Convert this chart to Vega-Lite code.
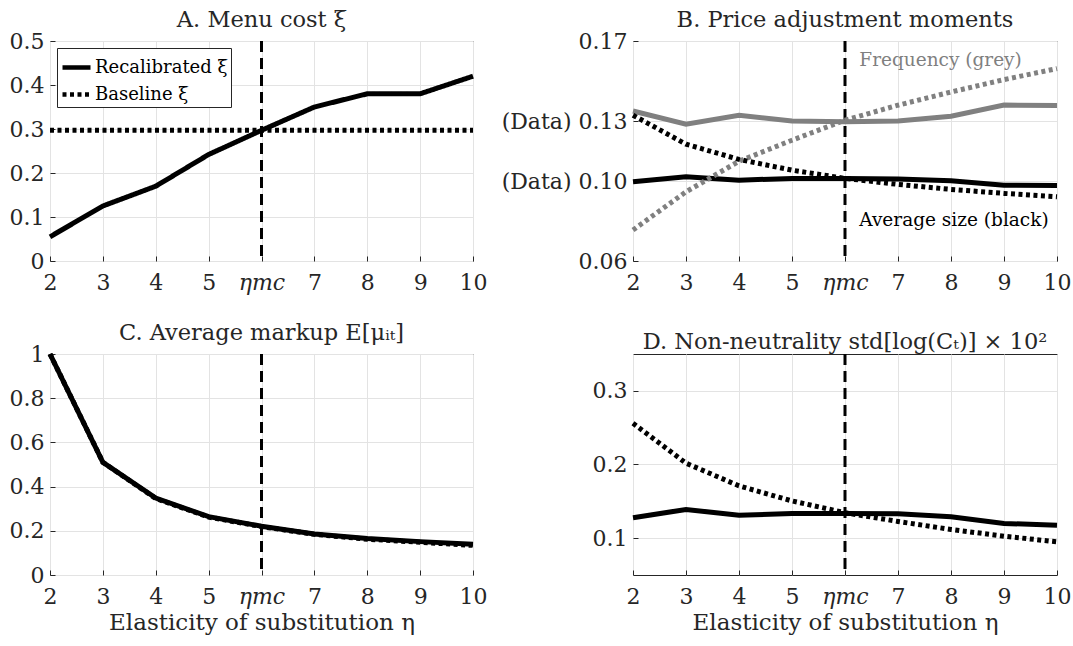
{
  "$schema": "https://vega.github.io/schema/vega-lite/v6.json",
  "background": "white",
  "padding": {"left": 8, "top": 8, "right": 5, "bottom": 5},
  "config": {
    "font": "DejaVu Serif",
    "view": {"stroke": "#262626", "strokeWidth": 1},
    "axis": {
      "labelFont": "DejaVu Serif", "labelFontSize": 22, "labelColor": "#262626",
      "domain": false, "tickColor": "#262626", "tickSize": -5,
      "gridColor": "#e3e3e3", "gridOpacity": 1,
      "titleFont": "DejaVu Serif", "titleFontSize": 23, "titleFontWeight": "normal", "titleColor": "#262626",
      "labelFlush": false, "labelOverlap": false
    },
    "axisX": {"labelPadding": 16},
    "axisY": {"labelPadding": 11},
    "title": {"font": "DejaVu Serif", "fontSize": 22.5, "fontWeight": "normal", "color": "#262626", "offset": -1}
  },
  "data": {"values": [
    {"panel": "A", "series": "Recalibrated", "eta": 2, "value": 0.055},
    {"panel": "A", "series": "Recalibrated", "eta": 3, "value": 0.125},
    {"panel": "A", "series": "Recalibrated", "eta": 4, "value": 0.17},
    {"panel": "A", "series": "Recalibrated", "eta": 5, "value": 0.242},
    {"panel": "A", "series": "Recalibrated", "eta": 6, "value": 0.297},
    {"panel": "A", "series": "Recalibrated", "eta": 7, "value": 0.35},
    {"panel": "A", "series": "Recalibrated", "eta": 8, "value": 0.38},
    {"panel": "A", "series": "Recalibrated", "eta": 9, "value": 0.38},
    {"panel": "A", "series": "Recalibrated", "eta": 10, "value": 0.42},
    {"panel": "A", "series": "Baseline", "eta": 2, "value": 0.297},
    {"panel": "A", "series": "Baseline", "eta": 3, "value": 0.297},
    {"panel": "A", "series": "Baseline", "eta": 4, "value": 0.297},
    {"panel": "A", "series": "Baseline", "eta": 5, "value": 0.297},
    {"panel": "A", "series": "Baseline", "eta": 6, "value": 0.297},
    {"panel": "A", "series": "Baseline", "eta": 7, "value": 0.297},
    {"panel": "A", "series": "Baseline", "eta": 8, "value": 0.297},
    {"panel": "A", "series": "Baseline", "eta": 9, "value": 0.297},
    {"panel": "A", "series": "Baseline", "eta": 10, "value": 0.297},
    {"panel": "B", "series": "freq_rec", "eta": 2, "value": 0.135},
    {"panel": "B", "series": "freq_rec", "eta": 3, "value": 0.1284},
    {"panel": "B", "series": "freq_rec", "eta": 4, "value": 0.1329},
    {"panel": "B", "series": "freq_rec", "eta": 5, "value": 0.130},
    {"panel": "B", "series": "freq_rec", "eta": 6, "value": 0.1296},
    {"panel": "B", "series": "freq_rec", "eta": 7, "value": 0.130},
    {"panel": "B", "series": "freq_rec", "eta": 8, "value": 0.1324},
    {"panel": "B", "series": "freq_rec", "eta": 9, "value": 0.138},
    {"panel": "B", "series": "freq_rec", "eta": 10, "value": 0.1377},
    {"panel": "B", "series": "freq_base", "eta": 2, "value": 0.0755},
    {"panel": "B", "series": "freq_base", "eta": 3, "value": 0.0946},
    {"panel": "B", "series": "freq_base", "eta": 4, "value": 0.1099},
    {"panel": "B", "series": "freq_base", "eta": 5, "value": 0.1204},
    {"panel": "B", "series": "freq_base", "eta": 6, "value": 0.1304},
    {"panel": "B", "series": "freq_base", "eta": 7, "value": 0.1379},
    {"panel": "B", "series": "freq_base", "eta": 8, "value": 0.1445},
    {"panel": "B", "series": "freq_base", "eta": 9, "value": 0.1507},
    {"panel": "B", "series": "freq_base", "eta": 10, "value": 0.1562},
    {"panel": "B", "series": "size_rec", "eta": 2, "value": 0.0996},
    {"panel": "B", "series": "size_rec", "eta": 3, "value": 0.1021},
    {"panel": "B", "series": "size_rec", "eta": 4, "value": 0.1004},
    {"panel": "B", "series": "size_rec", "eta": 5, "value": 0.1013},
    {"panel": "B", "series": "size_rec", "eta": 6, "value": 0.1013},
    {"panel": "B", "series": "size_rec", "eta": 7, "value": 0.101},
    {"panel": "B", "series": "size_rec", "eta": 8, "value": 0.1001},
    {"panel": "B", "series": "size_rec", "eta": 9, "value": 0.0979},
    {"panel": "B", "series": "size_rec", "eta": 10, "value": 0.0978},
    {"panel": "B", "series": "size_base", "eta": 2, "value": 0.1329},
    {"panel": "B", "series": "size_base", "eta": 3, "value": 0.1184},
    {"panel": "B", "series": "size_base", "eta": 4, "value": 0.1108},
    {"panel": "B", "series": "size_base", "eta": 5, "value": 0.1054},
    {"panel": "B", "series": "size_base", "eta": 6, "value": 0.1013},
    {"panel": "B", "series": "size_base", "eta": 7, "value": 0.0983},
    {"panel": "B", "series": "size_base", "eta": 8, "value": 0.0958},
    {"panel": "B", "series": "size_base", "eta": 9, "value": 0.0938},
    {"panel": "B", "series": "size_base", "eta": 10, "value": 0.0921},
    {"panel": "C", "series": "Recalibrated", "eta": 2, "value": 1.0},
    {"panel": "C", "series": "Recalibrated", "eta": 3, "value": 0.51},
    {"panel": "C", "series": "Recalibrated", "eta": 4, "value": 0.348},
    {"panel": "C", "series": "Recalibrated", "eta": 5, "value": 0.264},
    {"panel": "C", "series": "Recalibrated", "eta": 6, "value": 0.221},
    {"panel": "C", "series": "Recalibrated", "eta": 7, "value": 0.186},
    {"panel": "C", "series": "Recalibrated", "eta": 8, "value": 0.165},
    {"panel": "C", "series": "Recalibrated", "eta": 9, "value": 0.151},
    {"panel": "C", "series": "Recalibrated", "eta": 10, "value": 0.139},
    {"panel": "C", "series": "Baseline", "eta": 2, "value": 1.0},
    {"panel": "C", "series": "Baseline", "eta": 3, "value": 0.51},
    {"panel": "C", "series": "Baseline", "eta": 4, "value": 0.346},
    {"panel": "C", "series": "Baseline", "eta": 5, "value": 0.262},
    {"panel": "C", "series": "Baseline", "eta": 6, "value": 0.219},
    {"panel": "C", "series": "Baseline", "eta": 7, "value": 0.184},
    {"panel": "C", "series": "Baseline", "eta": 8, "value": 0.162},
    {"panel": "C", "series": "Baseline", "eta": 9, "value": 0.148},
    {"panel": "C", "series": "Baseline", "eta": 10, "value": 0.134},
    {"panel": "D", "series": "Recalibrated", "eta": 2, "value": 0.1277},
    {"panel": "D", "series": "Recalibrated", "eta": 3, "value": 0.139},
    {"panel": "D", "series": "Recalibrated", "eta": 4, "value": 0.131},
    {"panel": "D", "series": "Recalibrated", "eta": 5, "value": 0.1336},
    {"panel": "D", "series": "Recalibrated", "eta": 6, "value": 0.1336},
    {"panel": "D", "series": "Recalibrated", "eta": 7, "value": 0.133},
    {"panel": "D", "series": "Recalibrated", "eta": 8, "value": 0.129},
    {"panel": "D", "series": "Recalibrated", "eta": 9, "value": 0.12},
    {"panel": "D", "series": "Recalibrated", "eta": 10, "value": 0.1177},
    {"panel": "D", "series": "Baseline", "eta": 2, "value": 0.2559},
    {"panel": "D", "series": "Baseline", "eta": 3, "value": 0.2018},
    {"panel": "D", "series": "Baseline", "eta": 4, "value": 0.171},
    {"panel": "D", "series": "Baseline", "eta": 5, "value": 0.1505},
    {"panel": "D", "series": "Baseline", "eta": 6, "value": 0.1345},
    {"panel": "D", "series": "Baseline", "eta": 7, "value": 0.1227},
    {"panel": "D", "series": "Baseline", "eta": 8, "value": 0.1118},
    {"panel": "D", "series": "Baseline", "eta": 9, "value": 0.1027},
    {"panel": "D", "series": "Baseline", "eta": 10, "value": 0.095}
  ]},
  "columns": 2,
  "bounds": "flush",
  "spacing": {"row": 93, "column": 160},
  "resolve": {"scale": {"x": "independent", "y": "independent"}},
  "concat": [
    {
      "width": 423, "height": 220,
      "title": "A. Menu cost ξ̅",
      "transform": [{"filter": "datum.panel == 'A'"}],
      "encoding": {
        "x": {"field": "eta", "type": "quantitative", "scale": {"domain": [2, 10], "nice": false},
          "axis": {"title": null, "values": [2, 3, 4, 5, 6, 7, 8, 9, 10],
            "labelExpr": "datum.value == 6 ? 'ηmc' : datum.label",
            "labelFontStyle": {"condition": {"test": "datum.value == 6", "value": "italic"}, "value": "normal"}}},
        "y": {"field": "value", "type": "quantitative", "scale": {"domain": [0, 0.5], "nice": false, "zero": false},
          "axis": {"title": null, "values": [0, 0.1, 0.2, 0.3, 0.4, 0.5], "format": ".1~f"}}
      },
      "layer": [
        {"data": {"values": [{"eta": 6}]}, "mark": {"type": "rule", "color": "black", "strokeWidth": 3, "strokeDash": [11, 6]},
         "encoding": {"x": {"field": "eta", "type": "quantitative"}, "y": null}},
        {"mark": {"type": "line", "color": "black", "strokeWidth": 5},
         "encoding": {
           "strokeDash": {"field": "series", "type": "nominal",
             "scale": {"domain": ["Recalibrated", "Baseline"], "range": [[1, 0], [4, 3.5]]},
             "legend": {"orient": "top-left", "offset": 7, "title": null, "labelExpr": "datum.label + ' ξ̅'",
               "strokeColor": "#262626", "fillColor": "white", "padding": 3, "cornerRadius": 0,
               "symbolType": "stroke", "symbolStrokeWidth": 4.5, "symbolSize": 784, "symbolStrokeColor": "black",
               "labelFont": "DejaVu Serif", "labelFontSize": 18, "labelColor": "black", "rowPadding": 1, "labelOffset": 2}}
         }}
      ]
    },
    {
      "width": 424, "height": 220,
      "title": "B. Price adjustment moments",
      "transform": [{"filter": "datum.panel == 'B'"}],
      "encoding": {
        "x": {"field": "eta", "type": "quantitative", "scale": {"domain": [2, 10], "nice": false},
          "axis": {"title": null, "values": [2, 3, 4, 5, 6, 7, 8, 9, 10],
            "labelExpr": "datum.value == 6 ? 'ηmc' : datum.label",
            "labelFontStyle": {"condition": {"test": "datum.value == 6", "value": "italic"}, "value": "normal"}}},
        "y": {"field": "value", "type": "quantitative", "scale": {"domain": [0.06, 0.17], "nice": false, "zero": false},
          "axis": {"title": null, "values": [0.06, 0.1, 0.13, 0.17],
            "labelExpr": "abs(datum.value - 0.1) < 0.001 ? '(Data) 0.10' : abs(datum.value - 0.13) < 0.001 ? '(Data) 0.13' : format(datum.value, '.2f')"}}
      },
      "layer": [
        {"data": {"values": [{"eta": 6}]}, "mark": {"type": "rule", "color": "black", "strokeWidth": 3, "strokeDash": [11, 6]},
         "encoding": {"x": {"field": "eta", "type": "quantitative"}, "y": null}},
        {"transform": [{"filter": "datum.series == 'freq_rec'"}], "mark": {"type": "line", "color": "#808080", "strokeWidth": 5}},
        {"transform": [{"filter": "datum.series == 'size_rec'"}], "mark": {"type": "line", "color": "black", "strokeWidth": 5}},
        {"transform": [{"filter": "datum.series == 'freq_base'"}], "mark": {"type": "line", "color": "#808080", "strokeWidth": 5, "strokeDash": [4, 3.5]}},
        {"transform": [{"filter": "datum.series == 'size_base'"}], "mark": {"type": "line", "color": "black", "strokeWidth": 5, "strokeDash": [4, 3.5]}},
        {"data": {"values": [{"eta": 6.27, "value": 0.1603, "label": "Frequency (grey)"}]},
         "mark": {"type": "text", "align": "left", "baseline": "middle", "color": "#808080", "font": "DejaVu Serif", "fontSize": 18.5},
         "encoding": {"text": {"field": "label"}}},
        {"data": {"values": [{"eta": 6.27, "value": 0.0805, "label": "Average size (black)"}]},
         "mark": {"type": "text", "align": "left", "baseline": "middle", "color": "black", "font": "DejaVu Serif", "fontSize": 18.5},
         "encoding": {"text": {"field": "label"}}}
      ]
    },
    {
      "width": 423, "height": 221,
      "title": "C. Average markup E[μᵢₜ]",
      "transform": [{"filter": "datum.panel == 'C'"}],
      "encoding": {
        "x": {"field": "eta", "type": "quantitative", "scale": {"domain": [2, 10], "nice": false},
          "axis": {"title": "Elasticity of substitution η", "titlePadding": 4, "values": [2, 3, 4, 5, 6, 7, 8, 9, 10],
            "labelExpr": "datum.value == 6 ? 'ηmc' : datum.label",
            "labelFontStyle": {"condition": {"test": "datum.value == 6", "value": "italic"}, "value": "normal"}}},
        "y": {"field": "value", "type": "quantitative", "scale": {"domain": [0, 1], "nice": false, "zero": false},
          "axis": {"title": null, "values": [0, 0.2, 0.4, 0.6, 0.8, 1], "format": ".1~f"}}
      },
      "layer": [
        {"data": {"values": [{"eta": 6}]}, "mark": {"type": "rule", "color": "black", "strokeWidth": 3, "strokeDash": [11, 6]},
         "encoding": {"x": {"field": "eta", "type": "quantitative"}, "y": null}},
        {"transform": [{"filter": "datum.series == 'Recalibrated'"}], "mark": {"type": "line", "color": "black", "strokeWidth": 5}},
        {"transform": [{"filter": "datum.series == 'Baseline'"}], "mark": {"type": "line", "color": "black", "strokeWidth": 5, "strokeDash": [4, 3.5]}}
      ]
    },
    {
      "width": 424, "height": 221,
      "title": "D. Non-neutrality std[log(Cₜ)] × 10²",
      "transform": [{"filter": "datum.panel == 'D'"}],
      "encoding": {
        "x": {"field": "eta", "type": "quantitative", "scale": {"domain": [2, 10], "nice": false},
          "axis": {"title": "Elasticity of substitution η", "titlePadding": 4, "values": [2, 3, 4, 5, 6, 7, 8, 9, 10],
            "labelExpr": "datum.value == 6 ? 'ηmc' : datum.label",
            "labelFontStyle": {"condition": {"test": "datum.value == 6", "value": "italic"}, "value": "normal"}}},
        "y": {"field": "value", "type": "quantitative", "scale": {"domain": [0.05, 0.35], "nice": false, "zero": false},
          "axis": {"title": null, "values": [0.1, 0.2, 0.3], "format": ".1f"}}
      },
      "layer": [
        {"data": {"values": [{"eta": 6}]}, "mark": {"type": "rule", "color": "black", "strokeWidth": 3, "strokeDash": [11, 6]},
         "encoding": {"x": {"field": "eta", "type": "quantitative"}, "y": null}},
        {"transform": [{"filter": "datum.series == 'Recalibrated'"}], "mark": {"type": "line", "color": "black", "strokeWidth": 5}},
        {"transform": [{"filter": "datum.series == 'Baseline'"}], "mark": {"type": "line", "color": "black", "strokeWidth": 5, "strokeDash": [4, 3.5]}}
      ]
    }
  ]
}
